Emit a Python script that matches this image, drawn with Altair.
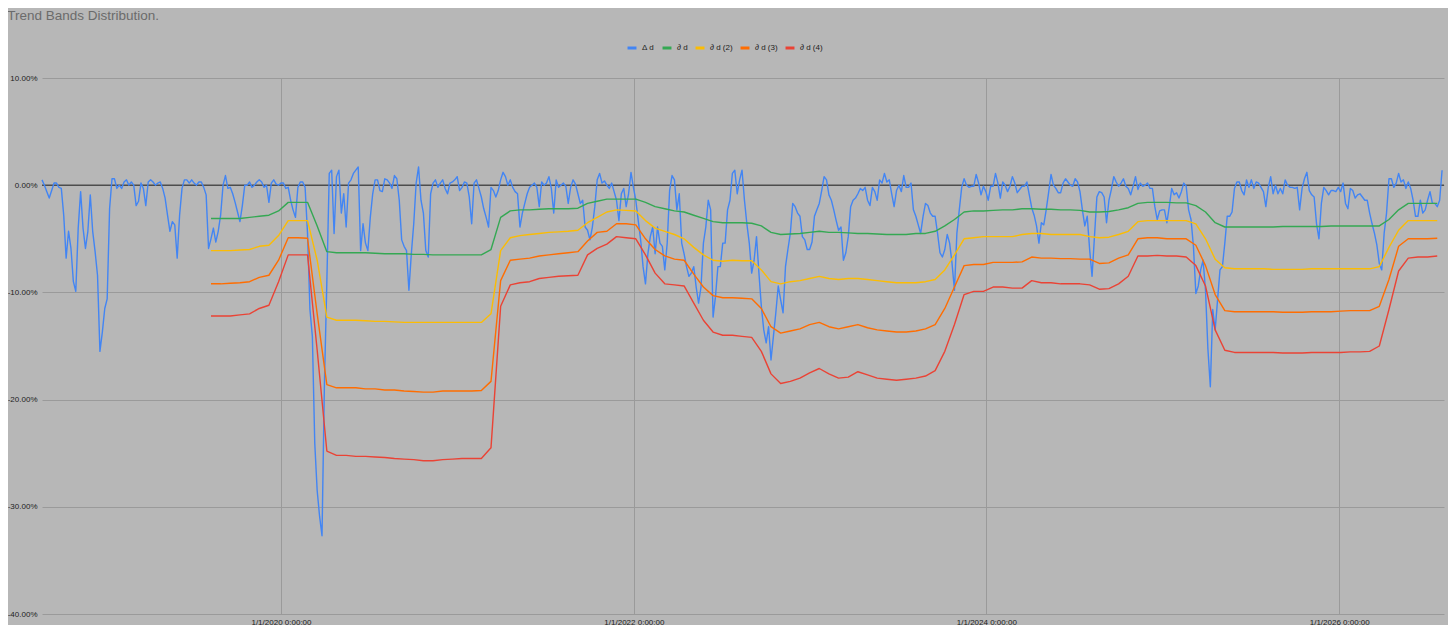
import altair as alt
import pandas as pd

# ---- data (percent values) ----
series_names = ["Δ d", "∂ d", "∂ d (2)", "∂ d (3)", "∂ d (4)"]
series_colors = ["#4285f4", "#34a853", "#fbbc04", "#ff6d01", "#ea4335"]

# Δ d : one value every 5 days starting 2018-08-24
delta_d = [
    0.5, 0.0, -0.6, -1.2, -0.5, 0.2, 0.2, -0.2, -0.3, -2.8,
    -6.8, -4.3, -5.9, -9.0, -9.9, -4.0, -0.6, -4.0, -5.9, -4.3,
    -0.9, -4.3, -6.2, -8.4, -15.5, -13.7, -11.5, -10.6, -2.2, 0.6,
    0.6, -0.3, 0.0, -0.3, 0.3, 0.5, 0.0, 0.3, 0.0, -1.9,
    -1.5, 0.2, -0.3, -1.9, 0.3, 0.5, 0.3, 0.0, 0.2, 0.3,
    -0.3, -1.2, -2.8, -4.3, -3.4, -3.7, -6.8, -2.8, -0.3, 0.5,
    0.5, 0.2, 0.5, 0.2, 0.0, 0.3, 0.3, -0.2, -0.9, -5.9,
    -5.0, -4.0, -5.3, -4.3, -2.8, 0.0, 0.9, -0.3, -0.2, -0.8,
    -1.6, -2.5, -3.4, -1.9, 0.0, 0.0, 0.3, -0.2, 0.0, 0.3,
    0.5, 0.3, -0.2, 0.0, -1.6, 0.2, 0.5, 0.1, 0.0, 0.2,
    0.2, -0.3, -0.2, -1.4, -2.3, -3.0, -0.2, 0.3, 0.3, -0.2,
    -4.5, -11.6, -14.1, -24.1, -28.5, -30.9, -32.7, -18.5, -9.0, 1.1,
    1.4, -4.5, 0.8, 1.4, -2.6, -0.8, -3.9, 0.2, 0.5, 1.1,
    1.4, 1.7, -6.1, -3.6, -5.4, -6.1, -3.0, -0.8, 0.5, 0.5,
    -0.5, -0.6, 0.6, 0.5, 0.2, -0.3, 0.9, 0.6, -1.4, -5.1,
    -5.7, -6.1, -9.8, -6.4, -3.6, 0.2, 1.7, -1.4, -2.6, -6.1,
    -6.7, -0.8, 0.2, 0.5, -0.2, 0.2, 0.5, -0.3, -0.8, 0.2,
    0.3, 0.5, 0.8, -0.5, -0.2, 0.3, 0.2, -1.1, -3.6, 0.2,
    0.5, -0.3, -1.1, -2.2, -3.0, -3.9, -0.2, -0.5, -1.1, -0.5,
    0.5, 1.2, 0.8, 0.0, 0.5, -0.2, -0.6, -0.8, -3.9, -2.6,
    -1.7, -0.8, -0.2, 0.0, 0.2, -0.2, -2.0, 0.3, 0.0, 0.2,
    0.8, -0.3, -2.6, 0.5, -0.2, 0.0, 0.2, -0.1, -1.7, -0.2,
    0.5, 0.1, -0.8, -1.7, -1.4, -3.9, -4.2, -5.1, -3.9, -2.0,
    0.5, 1.1, 0.2, 0.4, 0.0, -0.3, 0.2, -0.6, -1.4, -3.3,
    -0.8, -0.3, -2.0, -0.8, 1.2, -0.2, -1.4, -3.3, -5.1, -7.6,
    -9.2, -6.4, -4.8, -3.9, -6.4, -3.9, -5.4, -5.7, -7.9, -5.4,
    -0.5, 0.9, 0.5, -2.3, -0.8, -5.4, -6.4, -7.6, -8.5, -8.2,
    -7.6, -9.5, -11.0, -9.5, -5.4, -3.9, -1.4, -2.3, -12.3, -10.4,
    -7.6, -7.6, -5.4, -5.4, -2.3, -1.4, 1.1, 1.4, -0.8, 0.5,
    1.4, -1.4, -3.6, -5.4, -8.2, -7.0, -4.8, -8.2, -11.3, -13.5,
    -14.7, -13.2, -16.3, -14.1, -11.9, -9.4, -10.7, -11.9, -7.6, -6.0,
    -4.5, -1.7, -2.0, -2.6, -2.9, -4.8, -5.1, -6.0, -6.0, -5.3,
    -2.9, -2.3, -1.7, -0.5, 0.8, 0.5, -0.9, -1.4, -2.3, -3.3,
    -4.2, -3.9, -7.0, -6.3, -4.8, -2.0, -1.4, -1.2, -0.8, -0.3,
    -0.5, -0.2, -1.4, -1.9, -0.2, -0.6, -1.4, 0.5, 0.2, 1.1,
    0.3, 0.5, -0.8, -2.0, -0.5, 0.0, -0.6, 0.9, -0.2, -0.2,
    0.2, -2.3, -2.9, -3.7, -4.5, -2.9, -1.7, -1.9, -2.6, -2.9,
    -2.9, -4.5, -6.3, -6.7, -6.0, -4.6, -5.4, -7.3, -9.8, -4.5,
    -2.3, -0.2, 0.6, 0.0, -0.2, -0.1, -0.1, 1.0, 0.2, -0.9,
    -0.1, -0.6, -1.4, -0.1, -0.1, 1.1, 0.2, -1.2, 0.3, 0.0,
    -0.6, -0.1, 0.8, 0.2, -0.7, -0.4, -0.1, -0.1, 0.3, -0.9,
    -2.1, -2.8, -3.8, -5.4, -3.5, -3.7, -2.3, -0.7, 1.0, 0.0,
    -0.3, -0.7, -0.7, 0.2, 0.6, 0.3, 0.0, -0.1, 0.6, 0.3,
    -0.6, -2.3, -3.8, -2.9, -6.0, -8.5, -4.8, -1.1, -0.6, -0.7,
    -1.1, -3.5, -1.4, -0.4, 0.8, 0.3, -0.1, 0.2, 0.6, -0.1,
    -0.3, -0.9, -0.1, 0.8, -0.4, 0.2, -0.1, 0.0, 0.2, -0.3,
    -0.3, -2.0, -3.2, -2.4, -2.3, -2.3, -3.5, -2.0, -0.3, -0.9,
    -0.7, -1.2, -0.6, 0.2, -0.1, -2.3, -3.2, -5.7, -10.1, -9.4,
    -7.9, -7.0, -9.8, -15.3, -18.8, -11.6, -13.5, -10.7, -7.9, -7.6,
    -5.4, -2.9, -2.9, -2.5, -0.3, 0.3, 0.3, -0.5, -0.9, 0.5,
    -0.2, 0.5, -0.3, 0.3, 0.2, -0.2, -0.6, -2.0, -0.2, 0.8,
    -0.8, 0.0, -0.8, -0.3, -0.8, 0.5, 0.0, -0.2, -0.2, -0.3,
    -0.2, -2.3, -0.3, 0.6, 1.2, -0.5, -0.9, -1.1, -3.6, -5.0,
    -1.7, -0.2, -0.5, -0.9, -0.5, -0.5, -0.6, -0.2, -0.6, 0.2,
    -1.7, -2.2, -0.3, -0.5, -1.2, -0.9, -0.8, -1.1, -1.4, -1.4,
    -2.6, -3.6, -4.5, -5.6, -7.3, -7.9, -4.5, -2.6, 0.6, 0.6,
    -0.2, 0.2, 1.1, 0.3, 0.5, -0.3, 0.3, -0.3, -1.4, -2.9,
    -2.9, -1.4, -2.6, -2.3, -1.4, -0.6, -1.7, -1.7, -2.0, -1.4,
    1.4,
]

# bands : one value every 20 days starting 350 days after the first Δ d value
band_1 = [
    -3.1, -3.1, -3.1, -3.1, -3.0, -2.9, -2.8, -2.4,
    -1.6, -1.6, -1.6, -3.8, -6.2, -6.3, -6.3, -6.3,
    -6.3, -6.35, -6.4, -6.4, -6.4, -6.45, -6.45, -6.5,
    -6.5, -6.5, -6.5, -6.5, -6.5, -6.0, -3.0, -2.4,
    -2.3, -2.3, -2.25, -2.2, -2.2, -2.2, -2.15, -1.7,
    -1.5, -1.3, -1.3, -1.3, -1.3, -1.6, -2.0, -2.2,
    -2.4, -2.5, -2.8, -3.1, -3.4, -3.5, -3.5, -3.5,
    -3.55, -3.8, -4.4, -4.6, -4.55, -4.5, -4.4, -4.3,
    -4.4, -4.4, -4.45, -4.5, -4.5, -4.55, -4.6, -4.6,
    -4.6, -4.5, -4.5, -4.3, -3.8, -3.2, -2.5, -2.4,
    -2.4, -2.35, -2.3, -2.3, -2.2, -2.2, -2.25, -2.25,
    -2.3, -2.3, -2.35, -2.5, -2.5, -2.45, -2.3, -2.1,
    -1.7, -1.6, -1.6, -1.6, -1.65, -1.65, -1.9, -2.5,
    -3.5, -3.9, -3.9, -3.9, -3.9, -3.9, -3.9, -3.85,
    -3.85, -3.85, -3.85, -3.85, -3.8, -3.8, -3.8, -3.8,
    -3.8, -3.8, -3.2, -2.3, -1.7, -1.7, -1.7, -1.7,
]
band_2 = [
    -6.1, -6.1, -6.1, -6.05, -6.0, -5.7, -5.6, -4.7,
    -3.3, -3.3, -3.3, -7.0, -12.3, -12.6, -12.6, -12.6,
    -12.65, -12.7, -12.7, -12.75, -12.8, -12.8, -12.8, -12.8,
    -12.8, -12.8, -12.8, -12.8, -12.8, -12.0, -6.1, -4.9,
    -4.7, -4.6, -4.5, -4.4, -4.35, -4.3, -4.2, -3.5,
    -3.0, -2.5, -2.3, -2.35, -2.4, -3.3, -4.0, -4.3,
    -4.6, -5.0, -5.8, -6.5, -7.0, -7.1, -7.0, -7.05,
    -7.05, -7.9, -9.0, -9.2, -9.0, -8.9, -8.7, -8.5,
    -8.7, -8.8, -8.7, -8.7, -8.8, -8.9, -9.0, -9.1,
    -9.1, -9.1, -9.0, -8.8, -7.9, -6.5, -5.0, -4.9,
    -4.8, -4.8, -4.8, -4.8, -4.6, -4.5, -4.5, -4.6,
    -4.6, -4.6, -4.6, -4.8, -4.9, -4.85, -4.6, -4.3,
    -3.4, -3.3, -3.3, -3.3, -3.3, -3.3, -3.6, -5.0,
    -6.9, -7.7, -7.8, -7.8, -7.8, -7.8, -7.85, -7.85,
    -7.85, -7.85, -7.8, -7.8, -7.8, -7.8, -7.8, -7.8,
    -7.8, -7.6, -5.8, -4.2, -3.3, -3.3, -3.3, -3.3,
]
band_3 = [
    -9.2, -9.2, -9.15, -9.1, -9.0, -8.6, -8.4, -7.0,
    -4.9, -4.9, -4.95, -12.0, -18.6, -18.9, -18.9, -18.9,
    -19.0, -19.0, -19.1, -19.1, -19.2, -19.25, -19.3, -19.3,
    -19.2, -19.2, -19.2, -19.2, -19.15, -18.3, -8.9, -7.0,
    -6.9, -6.8, -6.6, -6.5, -6.4, -6.3, -6.2, -5.2,
    -4.4, -4.3, -3.6, -3.6, -3.7, -5.0, -6.0, -6.6,
    -6.9, -7.0, -8.3, -9.5, -10.3, -10.5, -10.5, -10.55,
    -10.6, -11.5, -13.2, -13.8, -13.6, -13.4, -13.0, -12.8,
    -13.2, -13.4, -13.2, -13.0, -13.3, -13.5, -13.6, -13.7,
    -13.7, -13.6, -13.4, -13.0, -11.5, -9.5, -7.5, -7.4,
    -7.4, -7.2, -7.2, -7.2, -7.15, -6.7, -6.8, -6.8,
    -6.85, -6.85, -6.9, -6.9, -7.3, -7.25, -6.8, -6.5,
    -5.0, -4.9, -4.9, -5.0, -5.0, -5.0, -5.6, -7.5,
    -10.2, -11.7, -11.8, -11.8, -11.8, -11.8, -11.8, -11.85,
    -11.85, -11.85, -11.8, -11.8, -11.8, -11.75, -11.7, -11.7,
    -11.7, -11.3, -8.8, -5.7, -5.0, -5.0, -5.0, -4.95,
]
band_4 = [
    -12.2, -12.2, -12.2, -12.1, -12.0, -11.5, -11.2, -9.0,
    -6.5, -6.5, -6.5, -15.4, -24.8, -25.2, -25.2, -25.3,
    -25.3, -25.35, -25.4, -25.5, -25.55, -25.6, -25.7, -25.7,
    -25.6, -25.55, -25.5, -25.5, -25.5, -24.5, -11.3, -9.3,
    -9.1, -9.0, -8.7, -8.6, -8.5, -8.45, -8.4, -6.5,
    -5.9, -5.5, -4.8, -4.9, -5.0, -6.5, -8.2, -9.2,
    -9.3, -9.4, -11.0, -12.6, -13.7, -14.0, -14.0, -14.1,
    -14.2, -15.5, -17.6, -18.5, -18.3, -18.0, -17.5, -17.1,
    -17.6, -18.0, -17.9, -17.4, -17.7, -18.0, -18.1, -18.2,
    -18.1, -18.0, -17.8, -17.3, -15.5, -13.0, -10.2, -9.9,
    -9.9, -9.5, -9.5, -9.6, -9.6, -8.9, -9.1, -9.1,
    -9.2, -9.2, -9.2, -9.3, -9.7, -9.65, -9.2, -8.5,
    -6.6, -6.6, -6.55, -6.6, -6.6, -6.7, -7.5, -9.4,
    -13.5, -15.4, -15.6, -15.6, -15.6, -15.6, -15.6, -15.65,
    -15.65, -15.65, -15.6, -15.6, -15.6, -15.6, -15.55, -15.55,
    -15.5, -15.0, -11.6, -8.0, -6.8, -6.7, -6.7, -6.6,
]

delta_dates = pd.date_range("2018-08-24", periods=len(delta_d), freq="5D")
band_dates = pd.date_range(delta_dates[70], periods=len(band_1), freq="20D")

rows = []
for d, v in zip(delta_dates, delta_d):
    rows.append({"date": d, "value": v / 100.0, "series": series_names[0]})
for name, vals in zip(series_names[1:], [band_1, band_2, band_3, band_4]):
    for d, v in zip(band_dates, vals):
        rows.append({"date": d, "value": v / 100.0, "series": name})
df = pd.DataFrame(rows)

y_ticks = [-0.4, -0.3, -0.2, -0.1, 0.0, 0.1]
x_ticks = [alt.DateTime(year=y, month=1, date=1) for y in (2020, 2022, 2024, 2026)]

FONT = "Liberation Sans"
GRID = "#9a9a9a"
Y_SCALE = alt.Scale(domain=[-0.4, 0.1], nice=False, zero=False)

x_enc = alt.X(
    "date:T",
    scale=alt.Scale(domain=[alt.DateTime(year=2018, month=8, date=24),
                            alt.DateTime(year=2026, month=8, date=6)]),
    axis=alt.Axis(values=x_ticks, format="%-m/%-d/%Y %-H:%M:%S", title=None,
                  domain=False, ticks=False, grid=True, gridColor=GRID, gridWidth=1,
                  labelFont=FONT, labelFontSize=8, labelColor="#222222",
                  labelPadding=4, labelFlush=False),
)
y_enc = alt.Y(
    "value:Q",
    scale=Y_SCALE,
    axis=alt.Axis(values=y_ticks, title=None, domain=False, ticks=False,
                  grid=True, gridColor=GRID, gridWidth=1,
                  labelExpr="replace(format(datum.value, '.2%'), '\u2212', '-')",
                  labelFont=FONT, labelFontSize=8, labelColor="#222222",
                  labelPadding=5),
)

zero_df = pd.DataFrame({"value": [0.0]})
zero_line = alt.Chart(zero_df).mark_rule(color="#4d4d4d", strokeWidth=1.5).encode(
    y=alt.Y("value:Q", scale=Y_SCALE)
)

lines = alt.Chart(df).mark_line(strokeWidth=1.4, strokeJoin="round").encode(
    x=x_enc,
    y=y_enc,
    color=alt.Color(
        "series:N",
        scale=alt.Scale(domain=series_names, range=series_colors),
        legend=alt.Legend(orient="none", legendX=584, legendY=-36,
                          direction="horizontal", title=None,
                          symbolType="stroke", symbolStrokeWidth=3, symbolSize=80,
                          labelFont=FONT, labelFontSize=8, labelColor="#222222",
                          labelOffset=4, columnPadding=1, padding=0),
    ),
    order=alt.Order("date:T"),
)

chart = alt.layer(zero_line, lines).properties(
    width=1402,
    height=536,
    autosize=alt.AutoSizeParams(type="none"),
    padding={"left": 34, "top": 70, "right": 4, "bottom": 11},
    title=alt.TitleParams("Trend Bands Distribution.", anchor="start", frame="bounds",
                          font=FONT, fontSize=13.5, fontWeight="normal",
                          color="#6b6b6b", offset=20),
).configure(
    background="#b7b7b7",
).configure_view(
    stroke=None,
)

chart.save("out.html", embed_options={"renderer": "svg", "actions": False})
